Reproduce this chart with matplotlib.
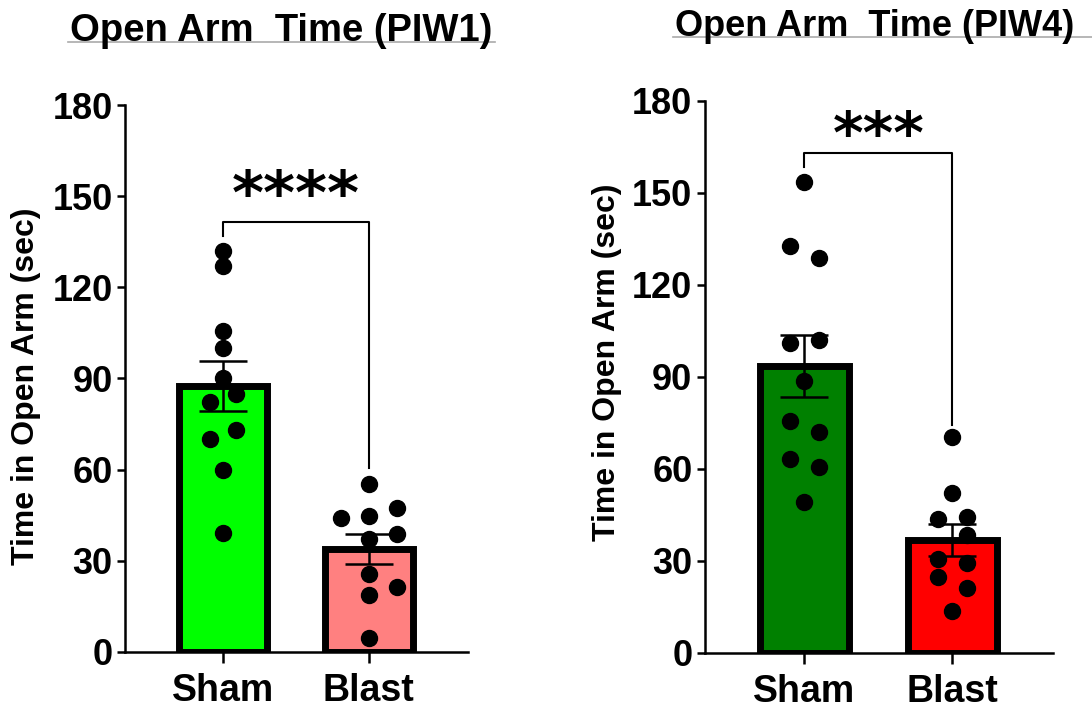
import matplotlib
matplotlib.use("Agg")
import matplotlib.pyplot as plt

groups = ["Sham", "Blast"]

# PIW1 values (sec)
piw1_sham = [131.8, 126.9, 105.6, 100.1, 90.2, 84.8, 82.2, 72.9, 70.2, 59.9, 39.3]
piw1_blast = [55.2, 47.5, 44.8, 44.2, 38.8, 37.1, 25.8, 21.3, 18.7, 4.6]
piw1_mean = [87.6, 33.8]
piw1_sem = [8.3, 5.0]

# PIW4 values (sec)
piw4_sham = [153.7, 132.8, 128.9, 102.1, 101.2, 88.7, 75.8, 72.2, 63.3, 60.7, 49.3]
piw4_blast = [70.3, 52.1, 43.6, 44.2, 38.5, 30.6, 29.2, 24.7, 21.3, 13.8]
piw4_mean = [93.5, 36.8]
piw4_sem = [10.1, 5.1]

# dot columns (layout only)
piw1_sham_col = [0, 0, 0, 0, 0, 1, -1, 1, -1, 0, 0]
piw1_blast_col = [0, 1, 0, -1, 1, 0, 0, 1, 0, 0]
piw4_sham_col = [0, -1, 1, 1, -1, 0, -1, 1, -1, 1, 0]
piw4_blast_col = [0, 0, -1, 1, 1, -1, 1, -1, 1, 0]

plt.rcParams["font.family"] = ["Liberation Sans", "DejaVu Sans"]
plt.rcParams["font.weight"] = "bold"

fig = plt.figure(figsize=(10.92, 7.09), dpi=100)


def panel(rect, sham, blast, cols, mean, sem, colors, bracket, stars, star_size, star_off, dx):
    ax = fig.add_axes(rect)
    x = [0, 1]
    ax.bar(x, mean, width=0.6, color=colors, edgecolor="black", linewidth=5, zorder=1)
    ax.errorbar(x, mean, yerr=sem, fmt="none", ecolor="black", elinewidth=1.8,
                capsize=17, capthick=1.8, zorder=3)
    for i, (vals, col) in enumerate(zip([sham, blast], cols)):
        xs = [i + c * dx[i] for c in col]
        ax.plot(xs, vals, "o", color="black", markersize=11.5, zorder=4, clip_on=False)
    top, l_end, r_end = bracket
    ax.plot([0, 0, 1, 1], [l_end, top, top, r_end], color="black", lw=1.5, zorder=2)
    ax.text(0.5, top + star_off, stars, ha="center", va="bottom", fontsize=star_size,
            family="DejaVu Sans", fontweight="bold")
    ax.set_xlim(-0.67, 1.68)
    ax.set_ylim(0, 180)
    ax.set_yticks(range(0, 181, 30))
    ax.set_xticks(x)
    ax.set_xticklabels(groups, fontsize=27, fontweight="bold")
    for s in ["top", "right"]:
        ax.spines[s].set_visible(False)
    for s in ["left", "bottom"]:
        ax.spines[s].set_linewidth(1.8)
    ax.tick_params(axis="y", length=6, width=1.8, labelsize=26, pad=3)
    ax.tick_params(axis="x", length=8, width=1.8, pad=7)
    for lab in ax.get_yticklabels():
        lab.set_fontweight("bold")
    return ax


panel([0.1145, 0.0804, 0.3141, 0.7715], piw1_sham, piw1_blast,
      [piw1_sham_col, piw1_blast_col], piw1_mean, piw1_sem,
      ["#00ff00", "#ff8080"], (141.4, 137.0, 60.4), "****", 44, -1.5, [0.091, 0.19])
panel([0.6456, 0.0790, 0.3187, 0.7786], piw4_sham, piw4_blast,
      [piw4_sham_col, piw4_blast_col], piw4_mean, piw4_sem,
      ["#008000", "#ff0000"], (163.0, 158.6, 74.3), "***", 42, -4.0, [0.098, 0.10])

fig.text(26 / 1092, 1 - 386 / 709, "Time in Open Arm (sec)", rotation=90,
         ha="center", va="center", fontsize=23, fontweight="bold")
fig.text(607 / 1092, 1 - 362 / 709, "Time in Open Arm (sec)", rotation=90,
         ha="center", va="center", fontsize=23, fontweight="bold")

fig.text(70 / 1092, 1 - 41 / 709, "Open Arm  Time (PIW1)", ha="left", va="baseline",
         fontsize=27.5, fontweight="bold")
fig.text(675 / 1092, 1 - 36 / 709, "Open Arm  Time (PIW4)", ha="left", va="baseline",
         fontsize=26, fontweight="bold")
fig.add_artist(plt.Line2D([68 / 1092, 495 / 1092], [1 - 42 / 709] * 2, color="#aaaaaa", lw=1.2))
fig.add_artist(plt.Line2D([673 / 1092, 1.0], [1 - 37 / 709] * 2, color="#aaaaaa", lw=1.2))

fig.savefig("out.png", dpi=100)
